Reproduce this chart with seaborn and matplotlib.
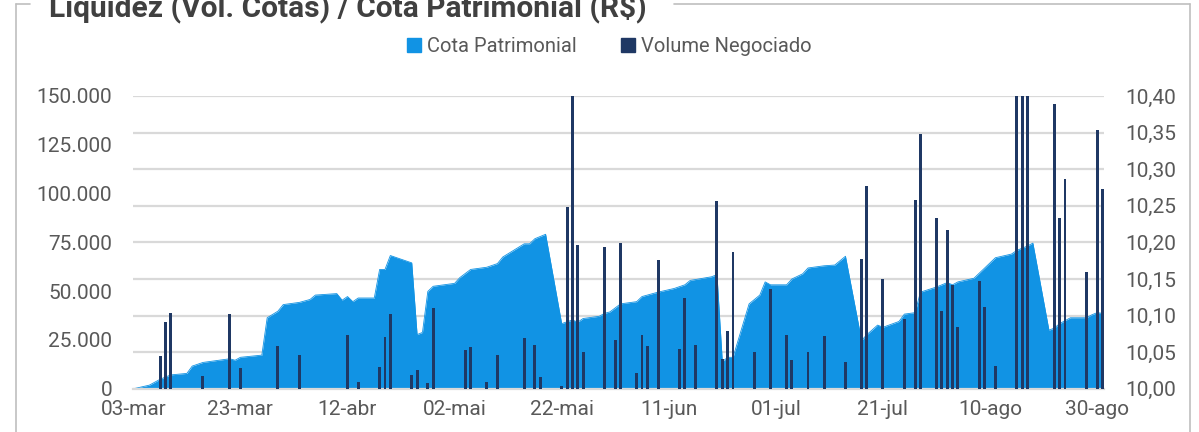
import numpy as np
import pandas as pd
import seaborn as sns
import matplotlib.pyplot as plt
import matplotlib.ticker as mticker
from matplotlib.patches import Patch
from matplotlib.lines import Line2D

# Cota Patrimonial (R$)
cota_dias = ["03-03", "03-06", "03-08", "03-10", "03-13", "03-14", "03-16", "03-20", "03-21", "03-22",
             "03-23", "03-27", "03-28", "03-30", "03-31", "04-03", "04-05", "04-06", "04-10", "04-11",
             "04-12", "04-13", "04-14", "04-17", "04-18", "04-19", "04-20", "04-24", "04-25", "04-26",
             "04-27", "04-28", "05-02", "05-03", "05-05", "05-08", "05-10", "05-11", "05-13", "05-15",
             "05-16", "05-17", "05-19", "05-22", "05-24", "05-25", "05-26", "05-29", "05-30", "05-31",
             "06-02", "06-05", "06-06", "06-09", "06-12", "06-14", "06-15", "06-19", "06-20", "06-21",
             "06-22", "06-23", "06-26", "06-28", "06-29", "06-30", "07-03", "07-04", "07-06", "07-07",
             "07-10", "07-12", "07-13", "07-14", "07-17", "07-18", "07-20", "07-21", "07-24", "07-25",
             "07-27", "07-28", "07-31", "08-02", "08-03", "08-04", "08-07", "08-09", "08-11", "08-14",
             "08-15", "08-17", "08-18", "08-21", "08-22", "08-23", "08-25", "08-28", "08-29", "08-30",
             "08-31"]
cota = [10.000, 10.005, 10.013, 10.019, 10.021, 10.031, 10.036, 10.040, 10.041, 10.039,
        10.043, 10.046, 10.097, 10.106, 10.115, 10.118, 10.122, 10.128, 10.130, 10.121,
        10.126, 10.119, 10.124, 10.124, 10.163, 10.163, 10.182, 10.172, 10.074, 10.077,
        10.133, 10.140, 10.144, 10.152, 10.163, 10.166, 10.171, 10.180, 10.189, 10.198,
        10.198, 10.205, 10.211, 10.089, 10.094, 10.091, 10.096, 10.099, 10.103, 10.105,
        10.116, 10.119, 10.126, 10.132, 10.137, 10.142, 10.148, 10.153, 10.156, 10.037,
        10.043, 10.043, 10.116, 10.128, 10.146, 10.142, 10.142, 10.150, 10.157, 10.165,
        10.168, 10.169, 10.175, 10.181, 10.066, 10.074, 10.087, 10.084, 10.092, 10.102,
        10.104, 10.132, 10.139, 10.145, 10.142, 10.146, 10.151, 10.165, 10.179, 10.184,
        10.189, 10.195, 10.199, 10.080, 10.083, 10.089, 10.097, 10.097, 10.101, 10.104,
        10.103]

# Volume Negociado (cotas)
vol_dias = ["03-08", "03-09", "03-10", "03-16", "03-21", "03-23", "03-30", "04-03", "04-12", "04-14",
            "04-18", "04-19", "04-20", "04-24", "04-25", "04-27", "04-28", "05-04", "05-05", "05-08",
            "05-10", "05-15", "05-17", "05-18", "05-22", "05-23", "05-24", "05-25", "05-26", "05-30",
            "06-01", "06-02", "06-05", "06-06", "06-07", "06-09", "06-13", "06-14", "06-16", "06-20",
            "06-21", "06-22", "06-23", "06-27", "06-30", "07-03", "07-04", "07-07", "07-10", "07-14",
            "07-17", "07-18", "07-21", "07-25", "07-27", "07-28", "07-31", "08-01", "08-02", "08-03",
            "08-04", "08-08", "08-09", "08-11", "08-15", "08-16", "08-17", "08-22", "08-23", "08-24",
            "08-28", "08-30", "08-31"]
volume = [17000, 34000, 39000, 6800, 38400, 10600, 21900, 17100, 27300, 3400,
          11100, 26500, 38100, 7200, 9700, 3200, 41300, 20000, 21400, 3400,
          17100, 26000, 22200, 6000, 1200, 92900, 160000, 73800, 19100, 72400,
          24800, 74700, 8200, 27300, 21700, 65800, 20200, 46600, 22200, 96000,
          15400, 29400, 70000, 18800, 51300, 27800, 15000, 19100, 26800, 13700,
          66600, 103900, 56400, 35900, 96500, 130500, 87600, 40000, 81300, 53300,
          31600, 55200, 41900, 11600, 160000, 160000, 160000, 145700, 87600, 107300,
          59600, 132400, 102200]

tick_dias = ["03-03", "03-23", "04-12", "05-02", "05-22", "06-11", "07-01", "07-21", "08-10", "08-30"]
tick_labels = ["03-mar", "23-mar", "12-abr", "02-mai", "22-mai", "11-jun", "01-jul", "21-jul", "10-ago", "30-ago"]

df_cota = pd.DataFrame({"data": pd.to_datetime(["2023-" + d for d in cota_dias]), "cota": cota})
df_vol = pd.DataFrame({"data": pd.to_datetime(["2023-" + d for d in vol_dias]), "volume": volume})
ticks = pd.to_datetime(["2023-" + d for d in tick_dias])

sns.set_theme(style="white")
plt.rcParams['font.family'] = ['Roboto', 'DejaVu Sans']

azul = "#1193e4"
marinho = "#1f3864"
cinza_txt = "#595959"

fig = plt.figure(figsize=(11.99, 4.32), dpi=100)
ax = fig.add_axes([0.111, 0.1, 0.81, 0.678])
ax2 = ax.twinx()

# area da cota no eixo direito (fica por baixo)
ax2.fill_between(df_cota["data"], 10.0, df_cota["cota"], color=azul, linewidth=0, zorder=2)
sns.lineplot(data=df_cota, x="data", y="cota", ax=ax2, color=azul, linewidth=0.6, zorder=2)
ax2.set_ylim(10.0, 10.4)
ax2.set_yticks(np.arange(10.0, 10.401, 0.05))
ax2.yaxis.set_major_formatter(mticker.FuncFormatter(lambda v, p: f"{v:.2f}".replace(".", ",")))
ax2.grid(axis="y", color="#d9d9d9", linewidth=1.6, zorder=0)
ax2.set_axisbelow(True)

# barras do volume no eixo esquerdo (por cima)
ax.bar(df_vol["data"], df_vol["volume"], width=0.55, color=marinho, linewidth=0, zorder=3)
ax.set_ylim(0, 150000)
ax.set_yticks(np.arange(0, 150001, 25000))
ax.yaxis.set_major_formatter(mticker.FuncFormatter(lambda v, p: f"{int(v):,}".replace(",", ".")))
ax.set_zorder(ax2.get_zorder() + 1)
ax.patch.set_visible(False)

ax.set_xlim(pd.Timestamp("2023-03-02 23:00"), pd.Timestamp("2023-08-31 08:00"))
ax.set_xticks(ticks)
ax.set_xticklabels(tick_labels)
ax.set_xlabel("")
ax.set_ylabel("")
ax2.set_ylabel("")
ax2.set_xlabel("")

for a in (ax, ax2):
    for s in a.spines.values():
        s.set_visible(False)
    a.tick_params(length=0, labelsize=15, labelcolor=cinza_txt)
ax.tick_params(axis="y", pad=15)
ax2.tick_params(axis="y", pad=15)
ax.tick_params(axis="x", pad=8)
ax2.spines["bottom"].set_visible(True)
ax2.spines["bottom"].set_color("#d9d9d9")
ax2.spines["bottom"].set_linewidth(1.6)

# legenda
handles = [Patch(color=azul, label="Cota Patrimonial"), Patch(color=marinho, label="Volume Negociado")]
fig.legend(handles=handles, loc="center", bbox_to_anchor=(0.508, 0.893), ncol=2, frameon=False,
           fontsize=14.5, handlelength=0.7, handleheight=0.7, handletextpad=0.3, columnspacing=2.2,
           labelcolor=cinza_txt)

# titulo (cortado no topo, como no original)
fig.text(0.041, 0.962, "Liquidez (Vol. Cotas) / Cota Patrimonial (R$)", fontsize=21.5,
         fontweight="bold", color="#404040", va="baseline", ha="left")

# moldura
borda = "#bfbfbf"
yb = 1 - 4 / 432
for xs, ys in [([16 / 1199, 16 / 1199], [0, yb]), ([16 / 1199, 30 / 1199], [yb, yb]),
               ([674 / 1199, 1190 / 1199], [yb, yb]), ([1190 / 1199, 1190 / 1199], [yb, 0])]:
    fig.add_artist(Line2D(xs, ys, transform=fig.transFigure, color=borda, linewidth=1.2))

fig.savefig("out.png", dpi=100)
